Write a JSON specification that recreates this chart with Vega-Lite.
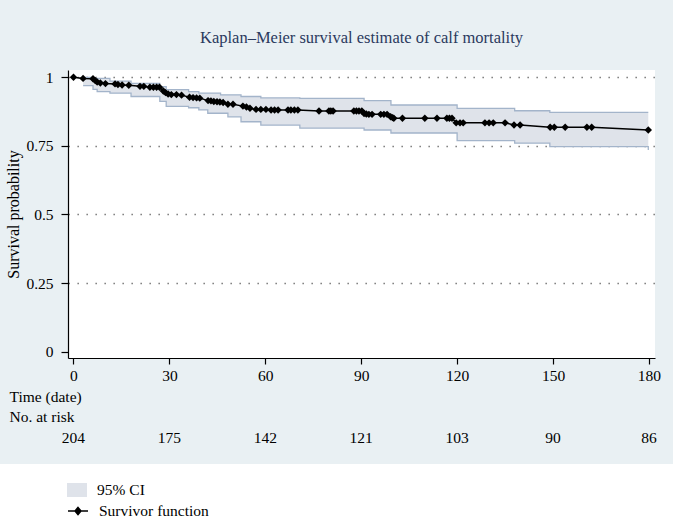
{
  "$schema": "https://vega.github.io/schema/vega-lite/v6.json",
  "width": 587,
  "height": 288,
  "autosize": {"type": "none"},
  "padding": {"left": 68, "top": 70, "right": 18, "bottom": 161},
  "background": "#e9f0f3",
  "view": {"fill": "white", "stroke": null},
  "title": {
    "text": "Kaplan–Meier survival estimate of calf mortality",
    "font": "Liberation Serif",
    "fontSize": 16.5,
    "fontWeight": "normal",
    "color": "#2b3a5e",
    "anchor": "middle",
    "baseline": "alphabetic",
    "offset": 11
  },
  "config": {
    "font": "Liberation Serif",
    "text": {"font": "Liberation Serif"}
  },
  "datasets": {
    "km": [
      {"t": 0, "s": 1.0},
      {"t": 3.0, "s": 0.996},
      {"t": 6.1, "s": 0.995},
      {"t": 6.8, "s": 0.988},
      {"t": 7.4, "s": 0.983},
      {"t": 8.4, "s": 0.979},
      {"t": 10.0, "s": 0.977},
      {"t": 13.0, "s": 0.976},
      {"t": 13.9, "s": 0.974},
      {"t": 15.2, "s": 0.972},
      {"t": 17.3, "s": 0.971},
      {"t": 20.8, "s": 0.967},
      {"t": 22.0, "s": 0.967},
      {"t": 23.9, "s": 0.964},
      {"t": 25.0, "s": 0.964},
      {"t": 26.0, "s": 0.964},
      {"t": 26.9, "s": 0.964},
      {"t": 28.1, "s": 0.95},
      {"t": 28.8, "s": 0.944},
      {"t": 29.6, "s": 0.939},
      {"t": 30.6, "s": 0.937},
      {"t": 32.2, "s": 0.937},
      {"t": 33.8, "s": 0.935},
      {"t": 36.3, "s": 0.927},
      {"t": 37.4, "s": 0.926},
      {"t": 38.5, "s": 0.925},
      {"t": 39.5, "s": 0.924},
      {"t": 42.1, "s": 0.915},
      {"t": 43.0, "s": 0.914},
      {"t": 43.9, "s": 0.912},
      {"t": 44.9, "s": 0.911},
      {"t": 45.8, "s": 0.91},
      {"t": 46.8, "s": 0.908},
      {"t": 48.3, "s": 0.902},
      {"t": 49.9, "s": 0.902},
      {"t": 53.0, "s": 0.895},
      {"t": 54.1, "s": 0.892},
      {"t": 55.2, "s": 0.887},
      {"t": 57.1, "s": 0.883},
      {"t": 58.6, "s": 0.883},
      {"t": 60.2, "s": 0.883},
      {"t": 61.8, "s": 0.881},
      {"t": 62.9, "s": 0.881},
      {"t": 64.0, "s": 0.881},
      {"t": 67.1, "s": 0.881},
      {"t": 68.0, "s": 0.881},
      {"t": 69.1, "s": 0.881},
      {"t": 70.2, "s": 0.881},
      {"t": 76.8, "s": 0.877},
      {"t": 79.9, "s": 0.877},
      {"t": 80.5, "s": 0.877},
      {"t": 81.2, "s": 0.877},
      {"t": 87.7, "s": 0.877},
      {"t": 88.5, "s": 0.877},
      {"t": 89.3, "s": 0.877},
      {"t": 90.2, "s": 0.877},
      {"t": 90.9, "s": 0.868},
      {"t": 91.6, "s": 0.866},
      {"t": 92.4, "s": 0.865},
      {"t": 93.4, "s": 0.865},
      {"t": 96.1, "s": 0.865},
      {"t": 97.1, "s": 0.865},
      {"t": 98.1, "s": 0.865},
      {"t": 99.2, "s": 0.856},
      {"t": 99.8, "s": 0.853},
      {"t": 100.2, "s": 0.851},
      {"t": 102.9, "s": 0.851},
      {"t": 109.9, "s": 0.851},
      {"t": 113.7, "s": 0.851},
      {"t": 116.8, "s": 0.851},
      {"t": 117.6, "s": 0.851},
      {"t": 118.4, "s": 0.851},
      {"t": 119.7, "s": 0.834},
      {"t": 120.9, "s": 0.834},
      {"t": 121.9, "s": 0.834},
      {"t": 128.7, "s": 0.834},
      {"t": 130.0, "s": 0.834},
      {"t": 131.3, "s": 0.834},
      {"t": 135.0, "s": 0.834},
      {"t": 137.8, "s": 0.826},
      {"t": 139.7, "s": 0.826},
      {"t": 149.1, "s": 0.818},
      {"t": 150.4, "s": 0.818},
      {"t": 153.8, "s": 0.818},
      {"t": 160.6, "s": 0.818},
      {"t": 162.1, "s": 0.818},
      {"t": 179.8, "s": 0.808}
    ],
    "ci": [
      {"t": 3.0, "lo": 0.97, "hi": 1.0},
      {"t": 6.1, "lo": 0.956, "hi": 0.996},
      {"t": 7.4, "lo": 0.948, "hi": 0.996},
      {"t": 11.4, "lo": 0.942, "hi": 0.986},
      {"t": 18.0, "lo": 0.93, "hi": 0.978},
      {"t": 27.0, "lo": 0.912, "hi": 0.966},
      {"t": 29.0, "lo": 0.894, "hi": 0.955},
      {"t": 36.0, "lo": 0.889, "hi": 0.948},
      {"t": 39.2, "lo": 0.881, "hi": 0.942},
      {"t": 42.0, "lo": 0.869, "hi": 0.942},
      {"t": 46.0, "lo": 0.869, "hi": 0.936},
      {"t": 48.3, "lo": 0.856, "hi": 0.936},
      {"t": 52.4, "lo": 0.838, "hi": 0.93},
      {"t": 58.6, "lo": 0.826, "hi": 0.925},
      {"t": 70.8, "lo": 0.815, "hi": 0.923},
      {"t": 90.9, "lo": 0.808, "hi": 0.915},
      {"t": 99.3, "lo": 0.797, "hi": 0.899},
      {"t": 120.0, "lo": 0.769, "hi": 0.887},
      {"t": 138.0, "lo": 0.76, "hi": 0.878},
      {"t": 149.0, "lo": 0.747, "hi": 0.872},
      {"t": 179.8, "lo": 0.735, "hi": 0.872}
    ],
    "risk": [
      {"t": 0, "n": 204},
      {"t": 30, "n": 175},
      {"t": 60, "n": 142},
      {"t": 90, "n": 121},
      {"t": 120, "n": 103},
      {"t": 150, "n": 90},
      {"t": 180, "n": 86}
    ]
  },
  "layer": [
    {
      "data": {"name": "ci"},
      "mark": {"type": "area", "interpolate": "step-after", "opacity": 1, "strokeWidth": 0},
      "encoding": {
        "x": {
          "field": "t",
          "type": "quantitative",
          "scale": {"domain": [-1.72, 181.9], "nice": false, "zero": false},
          "axis": {
            "values": [0, 30, 60, 90, 120, 150, 180],
            "format": "d",
            "grid": false,
            "domainColor": "black",
            "domainWidth": 1.2,
            "tickColor": "black",
            "tickWidth": 1.2,
            "tickSize": 6,
            "labelFontSize": 15.5,
            "labelColor": "black",
            "labelPadding": 4,
            "labelFlush": false,
            "title": ["Time (date)", "No. at risk"],
            "titleFontSize": 15.5,
            "titleFontWeight": "normal",
            "titleColor": "black",
            "titleAlign": "left",
            "titleAnchor": "start",
            "titleBaseline": "top",
            "titleLineHeight": 20,
            "titleX": -59,
            "titleY": 31
          }
        },
        "y": {
          "field": "lo",
          "type": "quantitative",
          "scale": {"domain": [-0.023, 1.0266], "nice": false, "zero": false},
          "axis": {
            "values": [0, 0.25, 0.5, 0.75, 1],
            "format": ".2~f",
            "domainColor": "black",
            "domainWidth": 1.2,
            "tickColor": "black",
            "tickWidth": 1.2,
            "tickSize": 7,
            "labelFontSize": 15.5,
            "labelColor": "black",
            "labelPadding": 8,
            "labelFlush": false,
            "title": "Survival probability",
            "titleFontSize": 16,
            "titleFontWeight": "normal",
            "titleColor": "black",
            "titlePadding": 4,
            "grid": true,
            "gridColor": "#666666",
            "gridWidth": 1.3,
            "gridDash": [1.3, 7.7],
            "gridOpacity": {"condition": {"test": "datum.value === 0", "value": 0}, "value": 1}
          }
        },
        "y2": {"field": "hi"},
        "fill": {
          "datum": "95% CI",
          "scale": {"range": ["#dfe3ea"]},
          "legend": {
            "orient": "none",
            "legendX": -1,
            "legendY": 410,
            "title": null,
            "padding": 0,
            "symbolType": "M-1,-0.7H1V0.7H-1Z",
            "symbolSize": 400,
            "symbolStrokeWidth": 0,
            "symbolOpacity": 1,
            "labelFontSize": 15.5,
            "labelColor": "black",
            "labelOffset": 10
          }
        }
      }
    },
    {
      "data": {"name": "ci"},
      "mark": {"type": "line", "interpolate": "step-after", "color": "#a3b4ca", "strokeWidth": 1.3},
      "encoding": {
        "x": {"field": "t", "type": "quantitative"},
        "y": {"field": "hi", "type": "quantitative"}
      }
    },
    {
      "data": {"name": "ci"},
      "mark": {"type": "line", "interpolate": "step-after", "color": "#a3b4ca", "strokeWidth": 1.3},
      "encoding": {
        "x": {"field": "t", "type": "quantitative"},
        "y": {"field": "lo", "type": "quantitative"}
      }
    },
    {
      "data": {"name": "km"},
      "mark": {"type": "line", "strokeWidth": 1.5},
      "encoding": {
        "x": {"field": "t", "type": "quantitative"},
        "y": {"field": "s", "type": "quantitative"},
        "stroke": {
          "datum": "Survivor function",
          "scale": {"range": ["black"]},
          "legend": {
            "orient": "none",
            "legendX": -1,
            "legendY": 430,
            "title": null,
            "padding": 0,
            "symbolType": "M-1,0H1M0,-0.35L0.3,0L0,0.35L-0.3,0Z",
            "symbolSize": 400,
            "symbolStrokeWidth": 1.5,
            "symbolFillColor": "black",
            "labelFontSize": 15.5,
            "labelColor": "black",
            "labelOffset": 10,
            "encode": {"symbols": {"update": {"fill": {"value": "black"}}}}
          }
        }
      }
    },
    {
      "data": {"name": "km"},
      "mark": {"type": "point", "shape": "diamond", "filled": true, "color": "black", "size": 55, "opacity": 1},
      "encoding": {
        "x": {"field": "t", "type": "quantitative"},
        "y": {"field": "s", "type": "quantitative"}
      }
    },
    {
      "data": {"name": "risk"},
      "mark": {"type": "text", "fontSize": 15.5, "color": "black", "baseline": "middle", "align": "center"},
      "encoding": {
        "x": {"field": "t", "type": "quantitative"},
        "y": {"datum": -0.3145, "type": "quantitative"},
        "text": {"field": "n", "type": "quantitative"}
      }
    },
    {
      "data": {"values": [{"band": "legend strip"}]},
      "mark": {"type": "rect", "color": "white"},
      "encoding": {
        "x": {"datum": -40, "type": "quantitative"},
        "x2": {"datum": 230},
        "y": {"datum": -0.409, "type": "quantitative"},
        "y2": {"datum": -0.75}
      }
    }
  ]
}
